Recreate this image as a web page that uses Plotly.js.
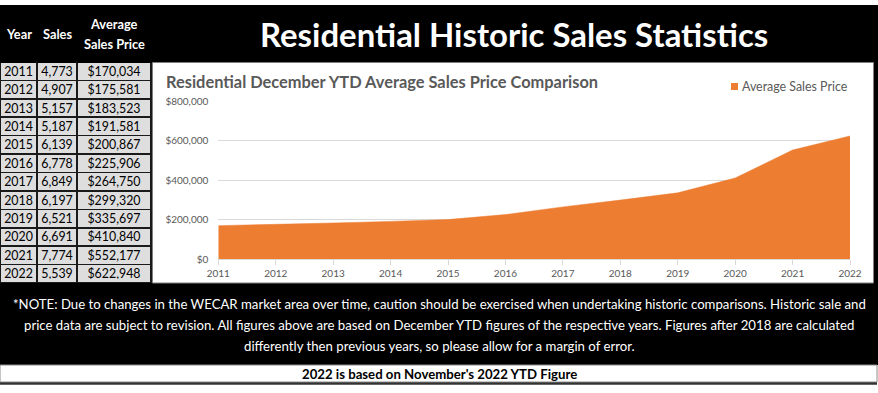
<!DOCTYPE html>
<html>
<head>
<meta charset="utf-8">
<script src="https://cdn.plot.ly/plotly-3.0.1.min.js"></script>
<style>
  html, body { margin: 0; padding: 0; background: #ffffff; }
  #chart { width: 878px; height: 393px; }
</style>
</head>
<body>
<div id="chart"></div>
<script>
// ---------------- data ----------------
const years = [2011, 2012, 2013, 2014, 2015, 2016, 2017, 2018, 2019, 2020, 2021, 2022];
const sales = [4773, 4907, 5157, 5187, 6139, 6778, 6849, 6197, 6521, 6691, 7774, 5539];
const avgPrice = [170034, 175581, 183523, 191581, 200867, 225906, 264750, 299320, 335697, 410840, 552177, 622948];
const tableHeaders = ['Year', 'Sales', 'Average', 'Sales Price'];
const pageTitle = 'Residential Historic Sales Statistics';
const chartTitle = 'Residential December YTD Average Sales Price Comparison';
const seriesName = 'Average Sales Price';
const noteLines = [
  '*NOTE: Due to changes in the WECAR market area over time, caution should be exercised when undertaking historic comparisons. Historic sale and',
  'price data are subject to revision. All figures above are based on December YTD figures of the respective years. Figures after 2018 are calculated',
  'differently then previous years, so please allow for a margin of error.'
];
const footNote = "2022 is based on November's 2022 YTD Figure";
const yTicks = [0, 200000, 400000, 600000, 800000];

// ---------------- helpers ----------------
const W = 878, H = 393;
const px = x => x / W;
const py = y => 1 - y / H;
const F = "Lato, 'Open Sans', 'Noto Sans', sans-serif";
const ORANGE = '#ED7D31';
const GREY = '#595959';

const fmtInt = v => v.toLocaleString('en-US');
const fmtMoney = v => '$' + v.toLocaleString('en-US');

// font size that makes a text span a given width (measured on a canvas)
const ctx = document.createElement('canvas').getContext('2d');
function fit(text, weight, target) {
  ctx.font = weight + ' 100px ' + F;
  const w = ctx.measureText(text).width;
  return Math.round(1000 * target / w) / 10;
}

const sTitle = fit(pageTitle, 'bold', 508);
const sChartTitle = fit(chartTitle, 'bold', 433);
const sLegend = fit(seriesName, 'normal', 105);
const sHead = fit(tableHeaders[3], 'bold', 61);
const sCell = fit('$170,034', 'normal', 53);
const sTick = fit('$800,000', 'normal', 43);
const sNote = fit(noteLines[0], 'normal', 852);
const sFoot = fit(footNote, 'bold', 277);

// ---------------- traces ----------------
const area = {
  type: 'scatter',
  mode: 'lines',
  x: years,
  y: avgPrice,
  name: seriesName,
  fill: 'tozeroy',
  fillcolor: ORANGE,
  line: { color: ORANGE, width: 0.5 },
  showlegend: false,
  hoverinfo: 'x+y'
};

const tableTop = 5, headH = 57, tableBottom = 283;
const rowH = (tableBottom - tableTop - headH) / years.length;
// plotly puts a cell's baseline at 8px + 0.75em below the cell top; move text to the row middle
const textShift = 8 + 0.75 * sCell - (rowH / 2 + 0.36 * sCell);
const colW = [37, 40, 74];

// grid + fills of the table
const tableGrid = {
  type: 'table',
  domain: { x: [0, px(151)], y: [py(tableBottom + 0.5), py(tableTop)] },
  columnwidth: colW,
  header: {
    values: ['', '', ''],
    height: headH,
    fill: { color: '#000000' },
    line: { color: '#000000', width: 1 }
  },
  cells: {
    values: [years.map(() => ''), sales.map(() => ''), avgPrice.map(() => '')],
    height: rowH,
    fill: { color: '#dedede' },
    line: { color: '#1a1a1a', width: 1.6 }
  }
};
// the values of the table
const tableText = {
  type: 'table',
  domain: { x: [0, px(151)], y: [py(tableBottom + 0.5 - textShift), py(tableTop)] },
  columnwidth: colW,
  header: {
    values: ['', '', ''],
    height: headH - textShift,
    fill: { color: 'rgba(0,0,0,0)' },
    line: { color: 'rgba(0,0,0,0)', width: 0 }
  },
  cells: {
    values: [years.map(String), sales.map(fmtInt), avgPrice.map(fmtMoney)],
    height: rowH,
    align: 'center',
    fill: { color: 'rgba(0,0,0,0)' },
    line: { color: 'rgba(0,0,0,0)', width: 0 },
    font: { family: F, size: sCell, color: '#000000' }
  }
};

// ---------------- layout ----------------
const shapes = [
  { type: 'rect', xref: 'paper', yref: 'paper', x0: 0, x1: px(878), y0: py(365), y1: py(5),
    fillcolor: '#000000', line: { width: 0 }, layer: 'below' },
  { type: 'rect', xref: 'paper', yref: 'paper', x0: px(152.5), x1: px(873.5), y0: py(283), y1: py(62.5),
    fillcolor: '#ffffff', line: { color: '#7f7f7f', width: 1 }, layer: 'below' },
  { type: 'rect', xref: 'paper', yref: 'paper', x0: 0, x1: px(877), y0: py(382), y1: py(365),
    fillcolor: '#ffffff', line: { color: '#8c8c8c', width: 1 }, layer: 'below' },
  { type: 'line', xref: 'paper', yref: 'paper', x0: 0, x1: px(877), y0: py(383.5), y1: py(383.5),
    line: { color: '#333333', width: 2.5 }, layer: 'below' },
  { type: 'rect', xref: 'paper', yref: 'paper', x0: px(731), x1: px(738), y0: py(90), y1: py(83),
    fillcolor: ORANGE, line: { width: 0 }, layer: 'above' }
];

function ann(text, x, y, anchor, size, color) {
  return { text: text, x: px(x), y: py(y), xref: 'paper', yref: 'paper',
    xanchor: anchor, yanchor: 'middle', showarrow: false,
    font: { family: F, size: size, color: color } };
}
const annotations = [
  ann('<b>' + pageTitle + '</b>', 514, 35, 'center', sTitle, '#ffffff'),
  ann('<b>' + tableHeaders[0] + '</b>', 18.5, 34, 'center', sHead, '#ffffff'),
  ann('<b>' + tableHeaders[1] + '</b>', 57, 34, 'center', sHead, '#ffffff'),
  ann('<b>' + tableHeaders[2] + '</b>', 114, 24.5, 'center', sHead, '#ffffff'),
  ann('<b>' + tableHeaders[3] + '</b>', 114, 44, 'center', sHead, '#ffffff'),
  ann('<b>' + chartTitle + '</b>', 164, 81, 'left', sChartTitle, GREY),
  ann(seriesName, 740, 86.5, 'left', sLegend, GREY),
  ann('<b>' + footNote + '</b>', 439, 373.5, 'center', sFoot, '#000000')
];
const noteY = [304, 325, 346];
noteLines.forEach((t, i) => annotations.push(ann(t, 439, noteY[i], 'center', sNote, '#ffffff')));

const layout = {
  width: W, height: H,
  margin: { l: 0, r: 0, t: 0, b: 0, pad: 0 },
  paper_bgcolor: '#ffffff',
  plot_bgcolor: 'rgba(0,0,0,0)',
  showlegend: false,
  font: { family: F, color: GREY },
  xaxis: {
    domain: [px(218.3), px(850)],
    range: [2011, 2022],
    tickmode: 'array',
    tickvals: years,
    ticktext: years.map(String),
    showgrid: false,
    zeroline: false,
    showline: true,
    linecolor: '#d9d9d9',
    linewidth: 1,
    ticks: 'outside',
    ticklen: 5,
    tickcolor: '#d9d9d9',
    tickfont: { family: F, size: sTick, color: GREY },
    fixedrange: true
  },
  yaxis: {
    domain: [py(259.3), py(101)],
    range: [0, 800000],
    tickmode: 'array',
    tickvals: yTicks,
    ticktext: yTicks.map(fmtMoney),
    showgrid: true,
    gridcolor: '#d9d9d9',
    gridwidth: 1,
    zeroline: false,
    showline: false,
    ticks: '',
    ticklabelstandoff: 9,
    tickfont: { family: F, size: sTick, color: GREY },
    fixedrange: true
  },
  shapes: shapes,
  annotations: annotations
};

Plotly.newPlot('chart', [area, tableGrid, tableText], layout, { displayModeBar: false, staticPlot: true });
</script>
</body>
</html>
